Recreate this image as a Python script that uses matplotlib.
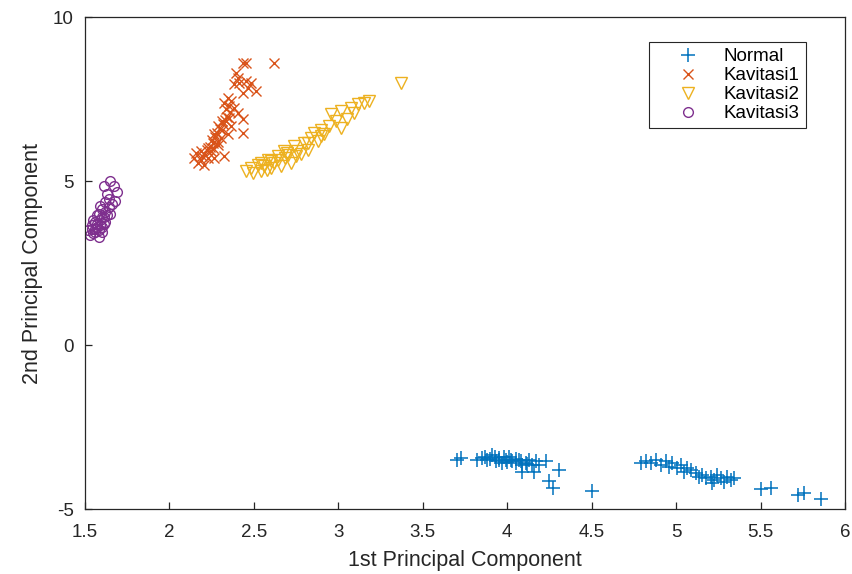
import matplotlib
matplotlib.use("Agg")
import matplotlib.pyplot as plt

plt.rcParams['font.family'] = ['Liberation Sans', 'DejaVu Sans']

# ---- data ----
normal_x = [3.705, 3.725, 3.824, 3.853, 3.883, 3.912, 3.932, 3.952, 3.971, 3.991,
            4.011, 4.031, 4.05, 4.07, 4.09, 4.11, 4.129, 4.149, 4.169, 4.188,
            4.228, 4.09, 4.16, 4.306, 4.25, 4.27, 4.5,
            3.87, 3.90, 3.95, 3.98, 4.02, 4.05, 4.00, 4.08, 3.93, 4.12,
            4.79, 4.82, 4.849, 4.879, 4.908, 4.938, 4.957, 4.977, 5.007, 5.027,
            5.046, 5.066, 5.086, 5.115, 5.135, 5.155, 5.175, 5.204, 5.224, 5.244,
            5.264, 5.283, 5.303, 5.323, 5.214, 5.343,
            5.50, 5.56, 5.72, 5.76, 5.86]
normal_y = [-3.50, -3.45, -3.50, -3.45, -3.50, -3.35, -3.55, -3.45, -3.60, -3.50,
            -3.40, -3.55, -3.60, -3.50, -3.65, -3.60, -3.50, -3.65, -3.55, -3.65,
            -3.55, -3.86, -3.86, -3.81, -4.15, -4.35, -4.45,
            -3.42, -3.47, -3.52, -3.42, -3.52, -3.47, -3.57, -3.54, -3.40, -3.62,
            -3.60, -3.55, -3.60, -3.50, -3.65, -3.55, -3.71, -3.60, -3.76, -3.65,
            -3.86, -3.76, -3.81, -3.91, -4.01, -3.96, -4.06, -4.01, -4.11, -3.96,
            -4.06, -4.17, -4.01, -4.11, -4.21, -4.06,
            -4.40, -4.37, -4.57, -4.52, -4.68]

kav1_x = [2.433, 2.453, 2.62, 2.393, 2.403, 2.383, 2.413, 2.453, 2.482, 2.512,
          2.463, 2.433, 2.344, 2.324, 2.364, 2.383, 2.334, 2.403, 2.433, 2.354,
          2.314, 2.285, 2.364, 2.433, 2.265, 2.305, 2.344, 2.256, 2.226, 2.285,
          2.186, 2.157, 2.147, 2.186, 2.226, 2.265, 2.324, 2.206, 2.167, 2.245,
          2.30, 2.32, 2.28, 2.34, 2.25, 2.27, 2.31, 2.21, 2.24, 2.36,
          2.29, 2.26, 2.33, 2.22, 2.35, 2.19]
kav1_y = [8.61, 8.61, 8.61, 8.30, 8.15, 7.95, 8.00, 8.05, 8.00, 7.74,
          7.85, 7.69, 7.54, 7.39, 7.44, 7.23, 7.18, 7.08, 6.88, 6.93,
          6.83, 6.67, 6.67, 6.47, 6.42, 6.31, 6.42, 6.16, 6.01, 6.11,
          5.91, 5.86, 5.70, 5.65, 5.70, 5.70, 5.75, 5.50, 5.55, 5.91,
          6.60, 6.75, 6.45, 6.95, 6.25, 6.35, 6.55, 5.80, 6.05, 7.10,
          6.20, 6.00, 6.85, 5.95, 7.30, 5.75]

kav2_x = [3.37, 2.956, 3.015, 3.074, 3.114, 3.153, 3.182, 2.985, 3.054, 3.094,
          3.015, 2.946, 2.896, 2.857, 2.837, 2.798, 2.738, 2.699, 2.640, 2.581,
          2.522, 2.482, 2.453, 2.492, 2.541, 2.601, 2.660, 2.719, 2.620, 2.778,
          2.818, 2.877, 2.916, 2.682, 2.758, 2.541, 2.818, 2.896,
          2.56, 2.60, 2.64, 2.70, 2.75, 2.58, 2.68]
kav2_y = [8.00, 7.03, 7.13, 7.23, 7.34, 7.39, 7.44, 6.83, 6.88, 7.08,
          6.62, 6.67, 6.57, 6.47, 6.32, 6.16, 6.06, 5.86, 5.75, 5.65,
          5.50, 5.40, 5.30, 5.24, 5.30, 5.40, 5.45, 5.55, 5.55, 5.81,
          5.96, 6.21, 6.42, 5.70, 5.91, 5.55, 6.16, 6.37,
          5.45, 5.60, 5.65, 5.80, 5.75, 5.35, 5.90]

kav3_x = [1.53, 1.55, 1.52, 1.56, 1.54, 1.58, 1.57, 1.59, 1.55, 1.60,
          1.61, 1.58, 1.62, 1.60, 1.63, 1.64, 1.57, 1.62, 1.65, 1.66,
          1.62, 1.68, 1.59, 1.63, 1.69, 1.61, 1.67, 1.65, 1.64, 1.56,
          1.60, 1.58, 1.54, 1.57, 1.59, 1.61, 1.56, 1.60]
kav3_y = [3.35, 3.40, 3.50, 3.55, 3.65, 3.50, 3.70, 3.80, 3.80, 3.60,
          3.90, 4.00, 4.05, 4.15, 3.95, 4.20, 3.95, 3.75, 4.00, 4.30,
          4.35, 4.40, 4.25, 4.60, 4.65, 4.85, 4.85, 5.00, 4.45, 3.45,
          3.45, 3.30, 3.55, 3.60, 3.65, 3.70, 3.75, 3.90]

series_names = ['Normal', 'Kavitasi1', 'Kavitasi2', 'Kavitasi3']
x_ticks = [1.5, 2, 2.5, 3, 3.5, 4, 4.5, 5, 5.5, 6]
x_tick_labels = ['1.5', '2', '2.5', '3', '3.5', '4', '4.5', '5', '5.5', '6']
y_ticks = [-5, 0, 5, 10]
y_tick_labels = ['-5', '0', '5', '10']

# ---- plotting ----
fig = plt.figure(figsize=(8.53, 5.74), dpi=100)
ax = fig.add_axes([85/853, 1 - 509/574, 760/853, 492/574])

ax.plot(normal_x, normal_y, linestyle='none', marker='+', color='#0072BD',
        markersize=10, markeredgewidth=1.1, label=series_names[0])
ax.plot(kav1_x, kav1_y, linestyle='none', marker='x', color='#D95319',
        markersize=6.5, markeredgewidth=1.0, label=series_names[1])
ax.plot(kav2_x, kav2_y, linestyle='none', marker='v', markerfacecolor='none',
        markeredgecolor='#EDB120', markersize=9, markeredgewidth=1.0,
        label=series_names[2])
ax.plot(kav3_x, kav3_y, linestyle='none', marker='o', markerfacecolor='none',
        markeredgecolor='#7E2F8E', markersize=7, markeredgewidth=1.0,
        label=series_names[3])

ax.set_xlim(1.5, 6)
ax.set_ylim(-5, 10)
ax.set_xticks(x_ticks)
ax.set_xticklabels(x_tick_labels)
ax.set_yticks(y_ticks)
ax.set_yticklabels(y_tick_labels)

for s in ax.spines.values():
    s.set_color('#262626')
    s.set_linewidth(0.9)
ax.tick_params(direction='in', length=5, width=0.9, colors='#262626',
               labelsize=13.5, top=False, right=False)
ax.tick_params(axis='x', pad=11)
ax.tick_params(axis='y', pad=8)

ax.set_xlabel('1st Principal Component', fontsize=15.5, color='#262626', labelpad=6)
ax.set_ylabel('2nd Principal Component', fontsize=15.5, color='#262626', labelpad=7)

leg = ax.legend(loc='upper right', bbox_to_anchor=(0.9605, 0.9675),
                fancybox=False, framealpha=1, edgecolor='#262626',
                fontsize=13.5, borderpad=0.3, handletextpad=0.1, labelspacing=0.1,
                handlelength=3.6)
leg.get_frame().set_linewidth(0.8)

fig.savefig('out.png', dpi=100)
